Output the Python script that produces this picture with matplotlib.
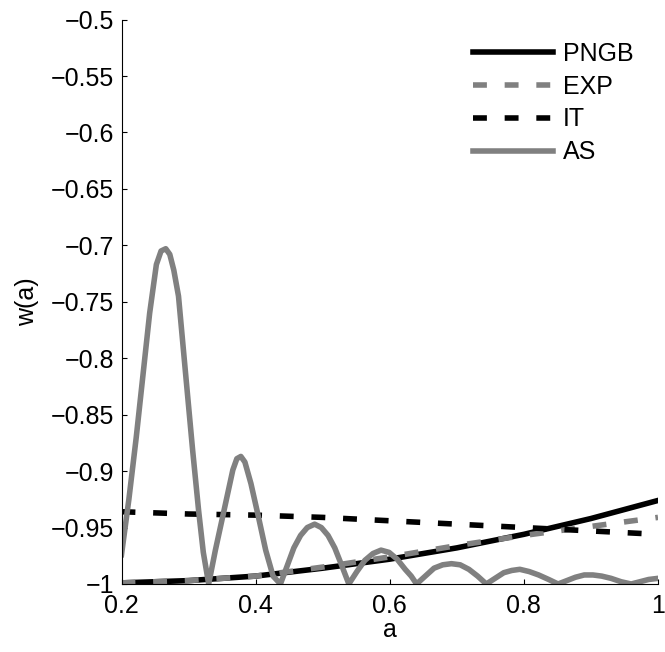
import matplotlib
matplotlib.use("Agg")
import matplotlib.pyplot as plt
from matplotlib.ticker import FuncFormatter

plt.rcParams['font.family'] = ['Liberation Sans', 'DejaVu Sans']

# smooth models, read at a = 0.2 ... 1.0
a_grid = [0.2, 0.3, 0.4, 0.5, 0.6, 0.7, 0.8, 0.9, 1.0]
w_pngb = [-0.999, -0.997, -0.993, -0.986, -0.978, -0.968, -0.956, -0.942, -0.926]
w_exp = [-0.999, -0.997, -0.993, -0.985, -0.976, -0.966, -0.957, -0.949, -0.941]
w_it = [-0.936, -0.938, -0.939, -0.941, -0.944, -0.947, -0.950, -0.953, -0.956]

# oscillating model
a_as = [0.200, 0.211, 0.222, 0.232, 0.242, 0.252, 0.259, 0.266, 0.272, 0.278,
        0.285, 0.295, 0.306, 0.315, 0.322, 0.330,
        0.340, 0.351, 0.366, 0.372, 0.378, 0.384, 0.393, 0.404, 0.415, 0.426, 0.437,
        0.447, 0.457, 0.467, 0.477, 0.488, 0.498, 0.508, 0.518, 0.528, 0.539,
        0.551, 0.563, 0.575, 0.587, 0.599, 0.611, 0.623, 0.632, 0.640,
        0.653, 0.666, 0.679, 0.692, 0.705, 0.718, 0.731, 0.744,
        0.757, 0.770, 0.782, 0.794, 0.808, 0.822, 0.837, 0.851,
        0.864, 0.877, 0.890, 0.903, 0.916, 0.930, 0.945, 0.960,
        0.973, 0.986, 1.000]
w_as = [-0.974, -0.925, -0.870, -0.815, -0.760, -0.717, -0.705, -0.703, -0.708, -0.722,
        -0.745, -0.810, -0.881, -0.935, -0.972, -1.000,
        -0.970, -0.940, -0.899, -0.889, -0.887, -0.892, -0.911, -0.940, -0.970, -0.993, -1.000,
        -0.984, -0.968, -0.957, -0.950, -0.947, -0.950, -0.957, -0.968, -0.983, -1.000,
        -0.989, -0.979, -0.973, -0.970, -0.972, -0.978, -0.987, -0.993, -1.000,
        -0.993, -0.986, -0.983, -0.982, -0.983, -0.987, -0.993, -1.000,
        -0.995, -0.990, -0.988, -0.987, -0.989, -0.992, -0.996, -1.000,
        -0.997, -0.994, -0.992, -0.992, -0.993, -0.995, -0.998, -1.000,
        -0.998, -0.996, -0.995]

x_ticks = [0.2, 0.4, 0.6, 0.8, 1.0]
y_ticks = [-1, -0.95, -0.9, -0.85, -0.8, -0.75, -0.7, -0.65, -0.6, -0.55, -0.5]

gray = '#808080'
lw = 4
fs = 18

fig = plt.figure(figsize=(6.65, 6.52), dpi=100)
ax = fig.add_axes([121.5 / 665, 0.1043, (658 - 121.5) / 665, 0.8657])

ax.plot(a_grid, w_pngb, color='black', lw=lw, label='PNGB')
ax.plot(a_grid, w_exp, color=gray, lw=lw, dashes=(2.5, 3.2), label='EXP')
ax.plot(a_grid, w_it, color='black', lw=lw, dashes=(2.5, 3.2), label='IT')
ax.plot(a_as, w_as, color=gray, lw=lw, label='AS')

ax.set_xlim(0.2, 1.0)
ax.set_ylim(-1, -0.5)
ax.set_xticks(x_ticks)
ax.set_yticks(y_ticks)
fmt = FuncFormatter(lambda v, p: ('%g' % v).replace('-', '\u2212'))
ax.xaxis.set_major_formatter(fmt)
ax.yaxis.set_major_formatter(fmt)
ax.tick_params(direction='in', length=3.6, width=0.8, labelsize=fs)
ax.tick_params(axis='x', pad=7)
ax.tick_params(axis='y', pad=5.5)
ax.spines['top'].set_visible(False)
ax.spines['right'].set_visible(False)
ax.set_xlabel('a', fontsize=fs, labelpad=0)
ax.set_ylabel('w(a)', fontsize=fs, labelpad=8)

ax.legend(loc='upper left', bbox_to_anchor=(473 / 665, 1 - 42 / 652),
          bbox_transform=fig.transFigure, frameon=False, fontsize=fs,
          handlelength=3.2, handletextpad=0.4, labelspacing=0.35,
          borderpad=0, borderaxespad=0)

fig.savefig('out.png', dpi=100)
